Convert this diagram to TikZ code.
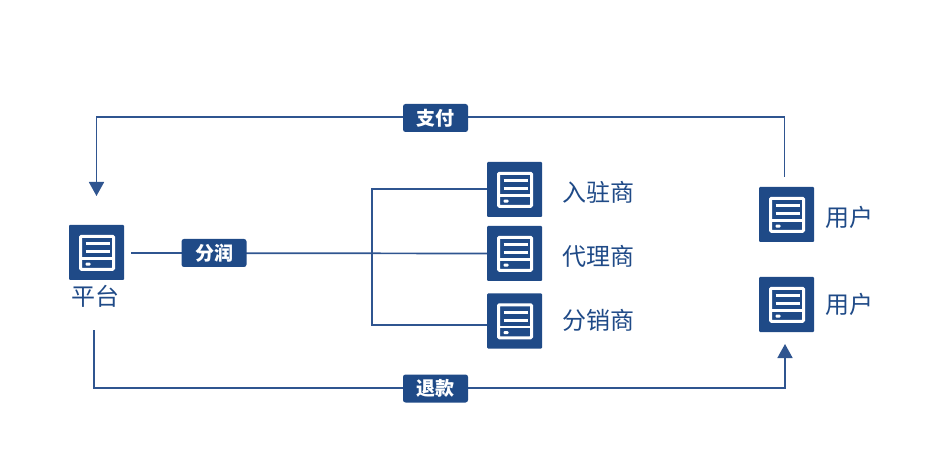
\documentclass[tikz,border=0pt]{standalone}
\usepackage{fontspec}
\setmainfont{Noto Sans CJK SC}
\usetikzlibrary{arrows.meta}
\definecolor{navy}{HTML}{1F4A87}
\definecolor{wire}{HTML}{2F5590}
\tikzset{
  x=1pt,y=-1pt,
  iconbox/.style={minimum size=55pt,inner sep=0pt,outer sep=0pt,fill=navy,rounded corners=1pt,
    path picture={
      \begin{scope}[shift={(path picture bounding box.center)},x=1pt,y=-1pt]
        \draw[white,line width=3pt,rounded corners=1pt] (-16,-16.2) rectangle (17,16.8);
        \draw[white,line width=2.6pt] (-16,5.8) -- (17,5.8);
        \draw[white,line width=3pt] (-11,-8.5) -- (13.5,-8.5);
        \draw[white,line width=3pt] (-11,-0.8) -- (13.5,-0.8);
        \fill[white] (-11,10.2) rectangle (-6,13.2);
      \end{scope}
    }},
  badge/.style={fill=navy,rounded corners=2.5pt,minimum width=65pt,minimum height=28pt,inner sep=0pt,
    text=white,font=\fontsize{19pt}{20pt}\selectfont\bfseries},
  lbl/.style={text=navy,inner sep=0pt,font=\fontsize{24pt}{26pt}\selectfont},
  wireline/.style={draw=wire,line width=1.7pt},
  arrowed/.style={wireline,-{Triangle[width=15pt,length=14pt]}},
}
\begin{document}
\begin{tikzpicture}
\useasboundingbox (0,0) rectangle (927,465);
\node[iconbox] (plat) at (96.5,252.5) {};
\node[iconbox] (ruzhu) at (514.5,189.5) {};
\node[iconbox] (daili) at (514.5,253.5) {};
\node[iconbox] (fenxiao) at (514.5,321) {};
\node[iconbox] (user1) at (786.5,214.5) {};
\node[iconbox] (user2) at (786.5,304.5) {};

\node[lbl] (platl) at (95.5,296.5) {平台};
\node[lbl] (ruzhul) at (598.5,192.5) {入驻商};
\node[lbl] (dailil) at (598.5,256.5) {代理商};
\node[lbl] (fenxiaol) at (598.5,320.5) {分销商};
\node[lbl] (user1l) at (849,217.5) {用户};
\node[lbl] (user2l) at (849,304.5) {用户};

\coordinate (paystart) at (784.5,177);
\coordinate (paytr) at (784.5,117);
\coordinate (paytl) at (96.5,117);
\coordinate (payend) at (96.5,196);
\coordinate (refstart) at (94,330);
\coordinate (refbl) at (94,388);
\coordinate (refbr) at (785,388);
\coordinate (refend) at (785,344);
\coordinate (splitstart) at (131,253);
\coordinate (busa) at (372,189);
\coordinate (busb) at (372,325);

\draw[arrowed] (paystart) -- (paytr) -- (paytl) -- (payend);
\draw[arrowed] (refstart) -- (refbl) -- (refbr) -- (refend);
\draw[wireline] (splitstart) -- (daili.west);
\draw[wireline] (ruzhu.west |- busa) -- (busa) -- (busb) -- (fenxiao.west |- busb);

\node[badge] (pay) at (435.5,118) {支付};
\node[badge] (refund) at (435.5,388.5) {退款};
\node[badge] (share) at (214,253) {分润};
\end{tikzpicture}
\end{document}
